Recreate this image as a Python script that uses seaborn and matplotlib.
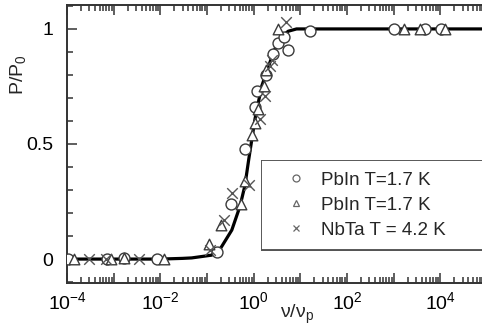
import numpy as np
import pandas as pd
import matplotlib
matplotlib.use("Agg")
import matplotlib.pyplot as plt
import matplotlib.ticker as mticker
import matplotlib.patheffects as pe
from matplotlib.lines import Line2D
import seaborn as sns

# PbIn, first run (circles)
pbin1_nu = [1.05e-4, 7.1e-4, 1.7e-3, 8.3e-3, 0.16, 0.32, 0.65, 1.07, 1.2, 1.8,
            2.6, 3.4, 4.4, 5.4, 16, 1.0e3, 4.6e3, 1.05e4]
pbin1_p = [0.0, 0.0, 0.005, 0.0, 0.03, 0.24, 0.48, 0.66, 0.73, 0.80,
           0.89, 0.94, 0.965, 0.91, 0.99, 1.0, 1.0, 1.0]

# PbIn, second run (triangles)
pbin2_nu = [1.4e-4, 8.9e-4, 1.7e-3, 1.2e-2, 0.11, 0.20, 0.54, 0.65, 0.91, 1.07,
            1.26, 1.66, 1.8, 3.4, 1.7e3, 3.6e3, 1.26e4]
pbin2_p = [0.0, 0.0, 0.005, 0.0, 0.065, 0.15, 0.24, 0.34, 0.54, 0.59,
           0.65, 0.75, 0.82, 1.0, 1.0, 1.0, 1.0]

# NbTa (crosses)
nbta_nu = [3.0e-4, 6.8e-4, 3.5e-3, 0.115, 0.23, 0.35, 0.78, 1.35, 1.74, 2.24, 2.45, 4.9]
nbta_p = [0.0, 0.0, 0.0, 0.04, 0.17, 0.285, 0.32, 0.61, 0.71, 0.84, 0.865, 1.03]

# Model curve
curve_nu = [1e-4, 1e-2, 0.03, 0.047, 0.126, 0.2, 0.34, 0.51, 0.65, 0.78, 0.98,
            1.07, 1.48, 2.1, 2.8, 4.0, 5.5, 8.3, 1e5]
curve_p = [0.0, 0.0, 0.003, 0.005, 0.017, 0.05, 0.126, 0.23, 0.32, 0.43, 0.56,
           0.61, 0.75, 0.84, 0.91, 0.967, 0.99, 1.0, 1.0]

legend_labels = ["PbIn T=1.7 K", "PbIn T=1.7 K", "NbTa T = 4.2 K"]
y_ticks = [0, 0.5, 1]
y_ticklabels = ["0", "0.5", "1"]

sns.set_theme(style="ticks")
plt.rcParams["font.family"] = ["Liberation Sans", "DejaVu Sans"]
plt.rcParams["mathtext.fontset"] = "custom"
plt.rcParams["mathtext.rm"] = "Liberation Sans"
plt.rcParams["mathtext.it"] = "Liberation Sans:italic"
plt.rcParams["mathtext.bf"] = "Liberation Sans:bold"

fig = plt.figure(figsize=(4.82, 3.30), dpi=100)
ax = fig.add_axes([67 / 482, 47 / 330, 420 / 482, 278 / 330])

curve_df = pd.DataFrame({"nu": curve_nu, "p": curve_p})
sns.lineplot(data=curve_df, x="nu", y="p", ax=ax, color="black", lw=2.3,
             estimator=None, sort=False, zorder=2)

edge = "#3a3a3a"
sns.scatterplot(x=pbin1_nu, y=pbin1_p, ax=ax, marker="o", s=62,
                facecolor="white", edgecolor=edge, linewidth=1.0, zorder=3)
sns.scatterplot(x=pbin2_nu, y=pbin2_p, ax=ax, marker="^", s=58,
                facecolor="white", edgecolor=edge, linewidth=1.0, zorder=3)
sns.scatterplot(x=nbta_nu, y=nbta_p, ax=ax, marker="x", s=58,
                color="#555555", linewidth=1.0, zorder=3)

ax.set_xscale("log")
ax.set_xlim(1e-4, 1e5)
ax.set_ylim(-0.104, 1.104)

ax.xaxis.set_major_locator(mticker.LogLocator(base=10, numticks=20))
ax.xaxis.set_minor_locator(mticker.LogLocator(base=10, subs=np.arange(2, 10), numticks=20))


def decade_label(v, pos):
    e = int(round(np.log10(v)))
    return r"$10^{%d}$" % e if e % 2 == 0 else ""


ax.xaxis.set_major_formatter(mticker.FuncFormatter(decade_label))
ax.set_yticks(y_ticks)
ax.set_yticklabels(y_ticklabels)
ax.yaxis.set_minor_locator(mticker.MultipleLocator(0.1))

ax.tick_params(which="both", direction="in", top=True, right=False,
               colors="#333333", labelcolor="black", labelsize=14, width=1.1)
ax.tick_params(which="major", length=7, pad=6)
ax.tick_params(which="minor", length=4)
ax.tick_params(axis="y", pad=10)
for s in ax.spines.values():
    s.set_color("#333333")
    s.set_linewidth(1.4)

ax.set_xlabel(r"$\mathregular{\nu/\nu_p}$", fontsize=14)
ax.set_ylabel(r"$\mathregular{P/P_0}$", fontsize=14)
ax.xaxis.set_label_coords(0.548, -0.072)
ax.yaxis.set_label_coords(-0.092, 0.75)

handles = [
    Line2D([], [], ls="none", marker="o", ms=5, mfc="none", mec="#666666", mew=0.9),
    Line2D([], [], ls="none", marker="^", ms=5, mfc="none", mec="#666666", mew=0.9),
    Line2D([], [], ls="none", marker="x", ms=5, color="#666666", mew=0.9),
]
leg = ax.legend(handles, legend_labels, loc="upper left",
                bbox_to_anchor=(0.467, 0.435, 0.52, 0.0), mode="expand",
                fontsize=13.5, frameon=True, fancybox=False, borderaxespad=0,
                labelspacing=0.43, handletextpad=0.1, handlelength=2.5,
                borderpad=0.5)
frame = leg.get_frame()
frame.set_edgecolor("#555555")
frame.set_facecolor("white")
frame.set_alpha(1)
frame.set_linewidth(3.6)
frame.set_path_effects([pe.Stroke(linewidth=3.6, foreground="#555555"),
                        pe.Stroke(linewidth=1.5, foreground="white")])

fig.savefig("out.png", dpi=100)
